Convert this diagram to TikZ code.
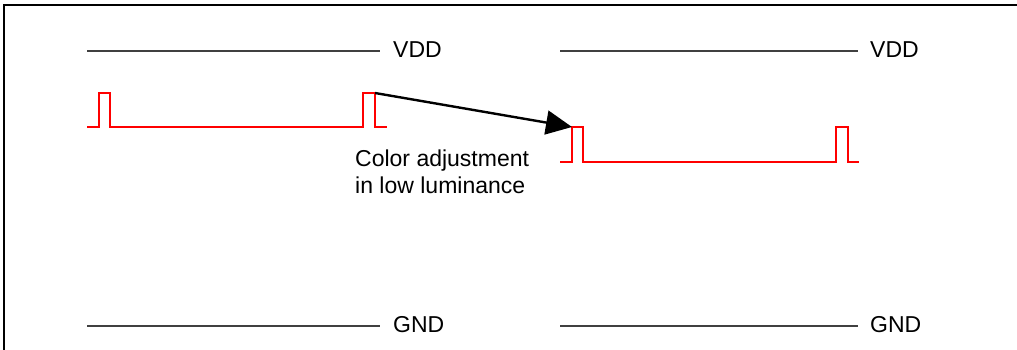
\documentclass[tikz,border=0pt]{standalone}
\usepackage{fontspec}
\setmainfont{Liberation Sans}
\usetikzlibrary{arrows.meta}
\begin{document}
\begin{tikzpicture}[x=1pt,y=-1pt,
  rail/.style={draw=black!75,line width=1.1pt},
  sig/.style={draw=red,line width=1.3pt},
  lbl/.style={anchor=west,inner sep=0pt,font=\fontsize{23}{27}\selectfont},
  frame/.style={draw=black,line width=2.2pt}]
\useasboundingbox (0,0) rectangle (1017,350);
\draw[frame] (4,350) -- (4,5) -- (1017,5);
% rails
\coordinate (v1a) at (87,51); \coordinate (v1b) at (380,51);
\coordinate (v2a) at (560,51); \coordinate (v2b) at (858,51);
\coordinate (g1a) at (87,326); \coordinate (g1b) at (380,326);
\coordinate (g2a) at (560,326); \coordinate (g2b) at (858,326);
\draw[rail] (v1a) -- (v1b);
\draw[rail] (v2a) -- (v2b);
\draw[rail] (g1a) -- (g1b);
\draw[rail] (g2a) -- (g2b);
\node[lbl] (vdd1) at (393,50) {VDD};
\node[lbl] (vdd2) at (870,50) {VDD};
\node[lbl] (gnd1) at (393,325) {GND};
\node[lbl] (gnd2) at (870,325) {GND};
% signals
\draw[sig] (87,127) -- (99,127) -- (99,93) -- (110,93) -- (110,127) -- (363,127) -- (363,93) -- (375,93) -- (375,127) -- (387,127);
\draw[sig] (560,162) -- (572,162) -- (572,127) -- (583,127) -- (583,162) -- (836,162) -- (836,127) -- (848,127) -- (848,162) -- (859,162);
\coordinate (s) at (375,93);
\coordinate (t) at (572,127);
\draw[line width=2.4pt,-{Triangle[length=26pt,width=24pt]}] (s) -- (t);
\node[lbl,anchor=north west,align=left] (txt) at (355,150) {Color adjustment\\in low luminance};
\end{tikzpicture}
\end{document}
